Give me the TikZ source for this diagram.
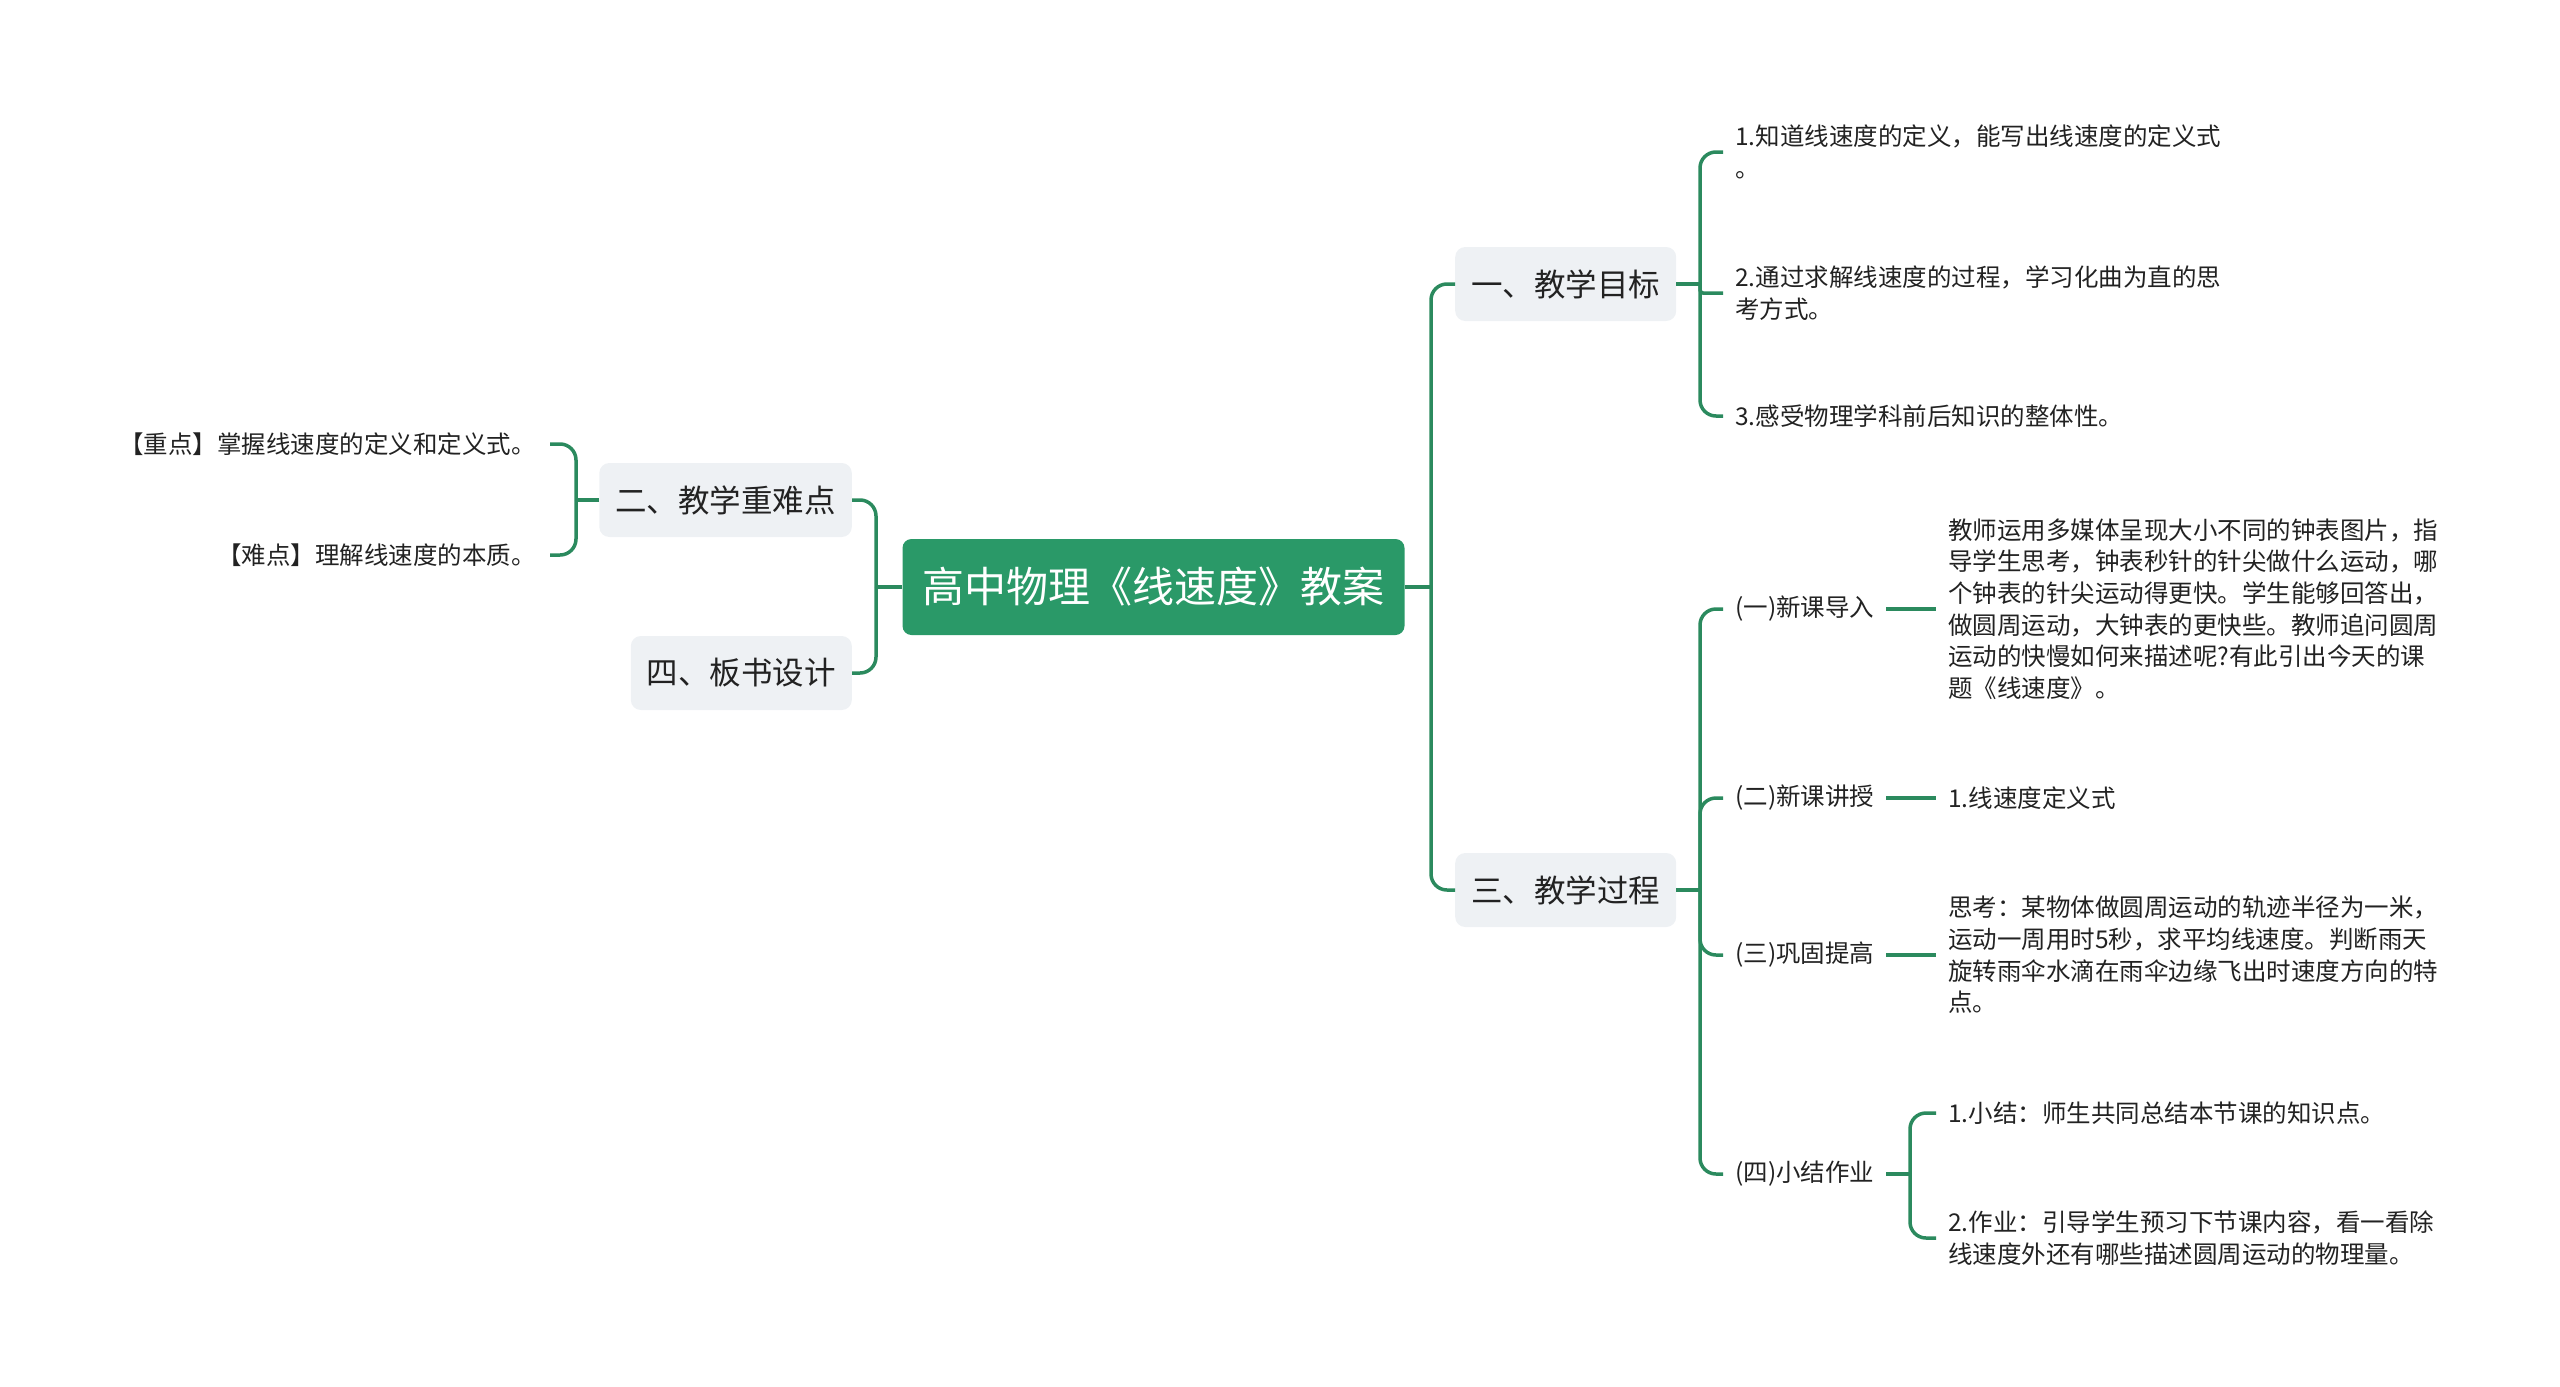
\documentclass[tikz,border=0pt]{standalone}
\usepackage{fontspec}
\setmainfont{Noto Sans CJK SC}
\definecolor{lineg}{RGB}{43,138,94}
\definecolor{rootg}{RGB}{42,153,104}
\definecolor{boxg}{RGB}{238,241,244}
\definecolor{txt}{RGB}{34,34,34}
\tikzset{
  rootbox/.style={fill=rootg, rounded corners=9pt, text=white, font=\fontsize{42}{48}\selectfont, inner xsep=20pt, inner ysep=0pt, minimum height=96pt},
  lvone/.style={fill=boxg, rounded corners=10pt, text=txt, font=\fontsize{31.5}{38}\selectfont, inner xsep=16pt, inner ysep=0pt, minimum height=74pt},
  leaf/.style={text=txt, font=\fontsize{24.5}{31.7}\selectfont, align=left, inner xsep=12pt, inner ysep=3pt},
  leafr/.style={leaf, align=right, inner xsep=14pt},
  conn/.style={draw=lineg, line width=3.5pt, rounded corners=16pt},
}
\begin{document}
\begin{tikzpicture}[x=1pt,y=-1pt]
\useasboundingbox (0,0) rectangle (2560,1387);
% root
\node[rootbox] (root) at (1153.5,587) {高中物理《线速度》教案};
% level one
\node[lvone, anchor=west] (n1) at (1455,284) {一、教学目标};
\node[lvone, anchor=west] (n3) at (1455,890) {三、教学过程};
\node[lvone, anchor=east] (n2) at (852,500) {二、教学重难点};
\node[lvone, anchor=east] (n4) at (852,673) {四、板书设计};
% children of n1
\node[leaf, anchor=west] (c11) at (1723,152) {1.知道线速度的定义，能写出线速度的定义式\\。};
\node[leaf, anchor=west] (c12) at (1723,293) {2.通过求解线速度的过程，学习化曲为直的思\\考方式。};
\node[leaf, anchor=west] (c13) at (1723,416) {3.感受物理学科前后知识的整体性。};
% children of n3
\node[leaf, anchor=west] (d1) at (1723,609) {(一)新课导入};
\node[leaf, anchor=west] (d2) at (1723,798) {(二)新课讲授};
\node[leaf, anchor=west] (d3) at (1723,955) {(三)巩固提高};
\node[leaf, anchor=west] (d4) at (1723,1174) {(四)小结作业};
% grandchildren
\node[leaf, anchor=west] (f1) at (1936,609) {教师运用多媒体呈现大小不同的钟表图片，指\\导学生思考，钟表秒针的针尖做什么运动，哪\\个钟表的针尖运动得更快。学生能够回答出，\\做圆周运动，大钟表的更快些。教师追问圆周\\运动的快慢如何来描述呢?有此引出今天的课\\题《线速度》。};
\node[leaf, anchor=west] (f2) at (1936,798) {1.线速度定义式};
\node[leaf, anchor=west] (f3) at (1936,955) {思考：某物体做圆周运动的轨迹半径为一米，\\运动一周用时5秒，求平均线速度。判断雨天\\旋转雨伞水滴在雨伞边缘飞出时速度方向的特\\点。};
\node[leaf, anchor=west] (e1) at (1936,1113) {1.小结：师生共同总结本节课的知识点。};
\node[leaf, anchor=west] (e2) at (1936,1238) {2.作业：引导学生预习下节课内容，看一看除\\线速度外还有哪些描述圆周运动的物理量。};
% left leaves
\node[leafr, anchor=east] (l1) at (550,444) {【重点】掌握线速度的定义和定义式。};
\node[leafr, anchor=east] (l2) at (550,555) {【难点】理解线速度的本质。};
% junctions
\coordinate (jr) at (1431,587);
\coordinate (jl) at (876,587);
\coordinate (j1) at (1700,284);
\coordinate (j3) at (1700,890);
\coordinate (j4) at (1910,1174);
\coordinate (j2) at (576,500);
% connectors
\draw[conn] (root.east) -- (jr);
\draw[conn] (jr) |- (n1.west);
\draw[conn] (jr) |- (n3.west);
\draw[conn] (root.west) -- (jl);
\draw[conn] (jl) |- (n2.east);
\draw[conn] (jl) |- (n4.east);
\draw[conn] (n1.east) -- (j1);
\draw[conn] (j1) |- (c11.west);
\draw[conn, rounded corners=3pt] (j1) |- (c12.west);
\draw[conn] (j1) |- (c13.west);
\draw[conn] (n3.east) -- (j3);
\draw[conn] (j3) |- (d1.west);
\draw[conn] (j3) |- (d2.west);
\draw[conn] (j3) |- (d3.west);
\draw[conn] (j3) |- (d4.west);
\draw[conn] (d1.east) -- (f1.west);
\draw[conn] (d2.east) -- (f2.west);
\draw[conn] (d3.east) -- (f3.west);
\draw[conn] (d4.east) -- (j4);
\draw[conn] (j4) |- (e1.west);
\draw[conn] (j4) |- (e2.west);
\draw[conn] (n2.west) -- (j2);
\draw[conn] (j2) |- (l1.east);
\draw[conn] (j2) |- (l2.east);
\end{tikzpicture}
\end{document}
